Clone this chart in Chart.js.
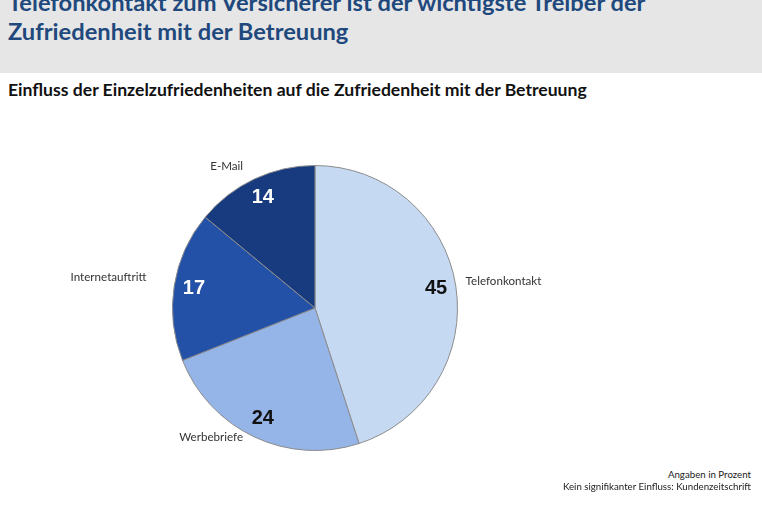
<!DOCTYPE html>
<html>
<head>
<meta charset="utf-8">
<script src="https://cdn.jsdelivr.net/npm/chart.js@4.4.0/dist/chart.umd.min.js"></script>
<style>
  html, body { margin:0; padding:0; background:#fff; width:762px; height:508px; overflow:hidden; }
  #head { position:absolute; left:0; top:0; width:762px; height:73px; background:#e6e6e6; }
  #title { position:absolute; left:8px; top:-12px; margin:0; font:bold 23.7px/29px Lato, "Open Sans", sans-serif; color:#1f497d; white-space:nowrap; }
  #sub { position:absolute; left:8px; top:80px; margin:0; font:bold 17.6px/20px Lato, "Open Sans", sans-serif; color:#111; white-space:nowrap; }
  #wrap { position:absolute; left:15px; top:110px; width:600px; height:396px; }
  .note { position:absolute; right:11px; font:9.7px/12px Lato, "Open Sans", sans-serif; color:#222; text-align:right; white-space:nowrap; }
</style>
</head>
<body>
<div id="head"></div>
<div id="title">Telefonkontakt zum Versicherer ist der wichtigste Treiber der<br>Zufriedenheit mit der Betreuung</div>
<div id="sub">Einfluss der Einzelzufriedenheiten auf die Zufriedenheit mit der Betreuung</div>
<div id="wrap"><canvas id="pie"></canvas></div>
<div class="note" style="top:468px">Angaben in Prozent</div>
<div class="note" style="top:480px">Kein signifikanter Einfluss: Kundenzeitschrift</div>
<script>
'use strict';

/* ---- data ---------------------------------------------------------------- */
const categories = ['Telefonkontakt', 'Werbebriefe', 'Internetauftritt', 'E-Mail'];
const shares = [45, 24, 17, 14];

/* ---- look ---------------------------------------------------------------- */
const sliceColors = ['#c6d9f2', '#95b4e8', '#2451a8', '#183a7f'];
const valueColors = ['#111111', '#111111', '#ffffff', '#ffffff'];
const labelNudge = [[0, -3], [-7, -9], [-18, -7], [-7, -4]];   // px tweaks for outside names

/* draws the numbers inside and the category names outside each slice */
const sliceLabels = {
  id: 'sliceLabels',
  afterDatasetsDraw(chart){
    const ctx = chart.ctx;
    const arcs = chart.getDatasetMeta(0).data;
    ctx.save();
    arcs.forEach((arc, i) => {
      const p = arc.getProps(['x', 'y', 'startAngle', 'endAngle', 'outerRadius'], true);
      const mid = (p.startAngle + p.endAngle) / 2;
      const cos = Math.cos(mid), sin = Math.sin(mid);

      // value inside
      const rv = p.outerRadius * 0.86;
      ctx.font = 'bold 20px "Liberation Sans", Arial, sans-serif';
      ctx.fillStyle = valueColors[i];
      ctx.textAlign = 'center';
      ctx.textBaseline = 'middle';
      ctx.fillText(String(shares[i]), p.x + rv * cos, p.y + rv * sin);

      // category name outside
      const ro = p.outerRadius + 10;
      const lx = p.x + ro * cos + labelNudge[i][0];
      const ly = p.y + ro * sin + labelNudge[i][1];
      ctx.font = '11.6px Lato, "Open Sans", sans-serif';
      ctx.fillStyle = '#333';
      ctx.textAlign = cos < 0 ? 'right' : 'left';
      ctx.fillText(categories[i], lx, ly);
    });
    ctx.restore();
  }
};

new Chart(document.getElementById('pie'), {
  type: 'pie',
  data: {
    labels: categories,
    datasets: [{
      data: shares,
      backgroundColor: sliceColors,
      borderColor: '#8c8c8c',
      borderWidth: 1,
    }]
  },
  options: {
    responsive: true,
    maintainAspectRatio: false,
    animation: false,
    layout: { padding: { left: 157, right: 157, top: 55, bottom: 55 } },
    plugins: { legend: { display: false }, tooltip: { enabled: false } },
  },
  plugins: [sliceLabels],
});
</script>
</body>
</html>
